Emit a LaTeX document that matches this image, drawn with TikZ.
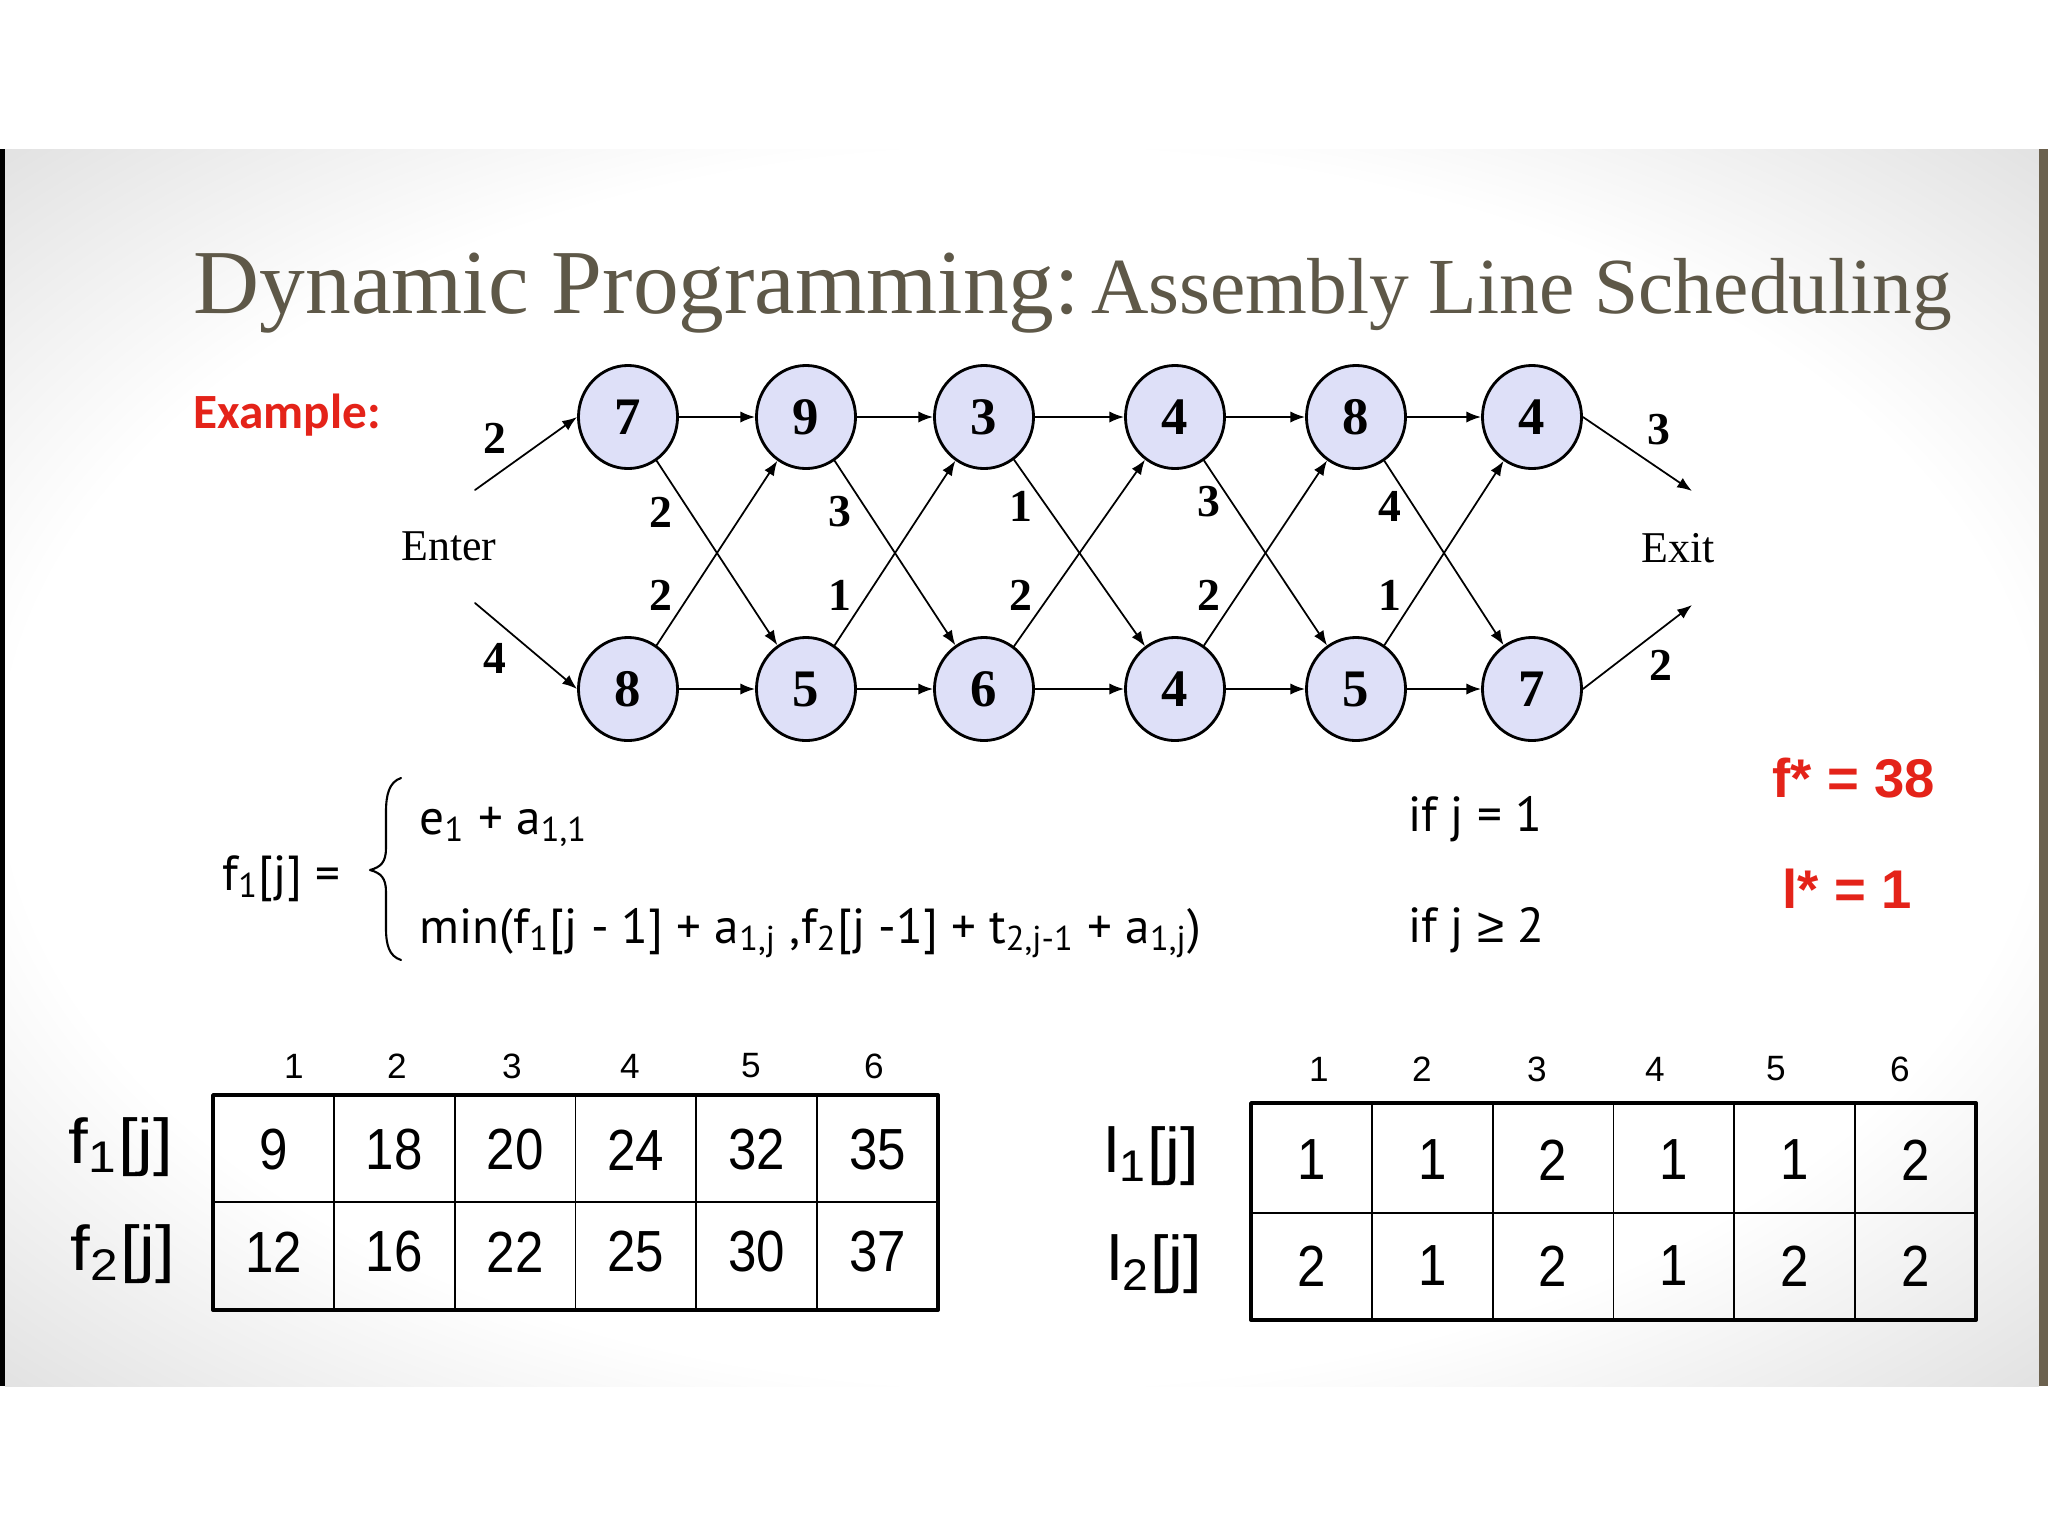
\documentclass[tikz,border=0pt]{standalone}
\usepackage{fontspec}
\setmainfont{Liberation Serif}
\newfontfamily\arialf{Liberation Sans}
\newfontfamily\calibf{Carlito}
\newfontfamily\formf{PT Sans}
\usetikzlibrary{arrows.meta,shapes.geometric,positioning}

\definecolor{titlegray}{RGB}{94,88,72}
\definecolor{exred}{RGB}{228,35,25}
\definecolor{stationfill}{RGB}{222,224,248}
\definecolor{barbrown}{RGB}{107,97,78}

\pgfdeclareradialshading{vignette}{\pgfpoint{0bp}{0bp}}{color(0bp)=(white); color(25bp)=(white); color(36bp)=(black!12); color(50bp)=(black!12)}

\tikzset{
  station/.style={ellipse,draw,line width=0.8pt,fill=stationfill,minimum width=0.99cm,
    minimum height=1.03cm,inner sep=0pt,font=\fontsize{15}{15}\selectfont\bfseries},
  arr/.style={-{Latex[length=4.2pt,width=3.2pt]},line width=0.5pt},
  wlabel/.style={inner sep=0pt,font=\fontsize{13}{14}\selectfont\bfseries},
  endlabel/.style={inner sep=0pt,font=\fontsize{12.5}{14}\selectfont},
  form/.style={anchor=base west,inner sep=0pt,font=\formf\fontsize{14}{16}\selectfont},
  result/.style={anchor=base west,inner sep=0pt,text=exred,font=\arialf\bfseries\fontsize{15.5}{18}\selectfont},
  colnum/.style={inner sep=0pt,font=\arialf\fontsize{10}{12}\selectfont},
  cell/.style={inner sep=0pt,font=\arialf\fontsize{16.5}{18}\selectfont},
  rowname/.style={inner sep=0pt,font=\arialf\fontsize{18}{20}\selectfont},
  outer/.style={line width=1.1pt},
  inner/.style={line width=0.5pt}
}

\begin{document}
\begin{tikzpicture}[x=0.01cm,y=-0.01cm,line cap=round,line join=round]
  \useasboundingbox (0,0) rectangle (2048,1536);
  % slide background
  \fill[white] (0,0) rectangle (2048,1536);
  \shade[shading=vignette] (5,149) rectangle (2039,1386);
  \fill[black] (0,149) rectangle (5,1386);
  \fill[barbrown] (2039,149) rectangle (2048,1386);

  \node[anchor=base west,inner sep=0pt,text=titlegray] (title) at (193,313)
    {\fontsize{26}{30}\selectfont Dynamic Programming:\hspace{3.2pt}\fontsize{22.6}{26}\selectfont Assembly Line Scheduling};
  \node[anchor=base west,inner sep=0pt,text=exred,font=\calibf\bfseries\fontsize{14}{16}\selectfont]
    (example) at (193,428) {Example:};

  % the two lines
  \foreach \x/\v [count=\i] in {628/7,806/9,984/3,1175/4,1356/8,1532/4}
    \node[station] (a\i) at (\x,417) {\v};
  \foreach \x/\v [count=\i] in {628/8,806/5,984/6,1175/4,1356/5,1532/7}
    \node[station] (b\i) at (\x,689) {\v};

  \node[endlabel] (enter) at (449,546) {Enter};
  \node[endlabel] (exit) at (1678,548) {Exit};
  \coordinate (inA) at (475,490);
  \coordinate (inB) at (475,603);
  \coordinate (outA) at (1692,491);
  \coordinate (outB) at (1692,605);

  \draw[arr] (inA) -- (a1.west);
  \draw[arr] (inB) -- (b1.west);
  \draw[arr] (a6.east) -- (outA);
  \draw[arr] (b6.east) -- (outB);
  \foreach \i in {1,...,5}{
    \pgfmathtruncatemacro\j{\i+1}
    \draw[arr] (a\i) -- (a\j);
    \draw[arr] (b\i) -- (b\j);
    \draw[arr] (a\i) -- (b\j);
    \draw[arr] (b\i) -- (a\j);
  }

  % weights
  \node[wlabel] (e1) at (495,438) {2};
  \node[wlabel] (e2) at (495,658) {4};
  \node[wlabel] (x1) at (1659,430) {3};
  \node[wlabel] (x2) at (1661,665) {2};
  \foreach \x/\ya/\ta/\tb [count=\i] in {661/512/2/2,840/512/3/1,1021/506/1/2,1209/502/3/2,1390/506/4/1}{
    \node[wlabel] (ta\i) at (\x,\ya) {\ta};
    \node[wlabel] (tb\i) at (\x,595) {\tb};
  }

  % recurrence
  \node[form] (lhs) at (222,890) {f\textsubscript{1}[j] =};
  \draw[line width=0.6pt] (401,778) .. controls (389,782) and (386,795) .. (386,812) -- (386,848)
    .. controls (386,862) and (381,867) .. (370,870) .. controls (381,873) and (386,878) .. (386,892)
    -- (386,928) .. controls (386,945) and (389,956) .. (401,960);
  \node[form] (case1) at (419,834) {e\textsubscript{1} + a\textsubscript{1,1}};
  \node[form] (case2) at (419,943) {min(f\textsubscript{1}[j - 1] + a\textsubscript{1,j} ,f\textsubscript{2}[j -1] + t\textsubscript{2,j-1} + a\textsubscript{1,j})};
  \node[form] (cond1) at (1408,831) {if j = 1};
  \node[form] (cond2) at (1408,942) {if j {\arialf ≥} 2};

  \node[result] (fstar) at (1772,797) {f* = 38};
  \node[result] (lstar) at (1782,908) {l* = 1};

  % table f
  \draw[outer] (213,1095) rectangle (938,1310);
  \draw[inner] (213,1202) -- (938,1202);
  \foreach \k in {1,...,5}
    \draw[inner] ({213+\k*120.83},1095) -- ({213+\k*120.83},1310);
  \foreach \x [count=\k] in {294,397,512,630,751,874}
    \node[colnum] (fh\k) at (\x,1066) {\k};
  \foreach \v [count=\k] in {9,18,20,24,32,35}
    \node[cell] (fa\k) at ({213+(\k-0.5)*120.83},1150) {\scalebox{0.88}[1]{\v}};
  \foreach \v [count=\k] in {12,16,22,25,30,37}
    \node[cell] (fb\k) at ({213+(\k-0.5)*120.83},1252) {\scalebox{0.88}[1]{\v}};
  \node[rowname] (fone) at (121,1147) {\scalebox{1.12}[1]{f\textsubscript{1}[j]}};
  \node[rowname] (ftwo) at (123,1254) {\scalebox{1.12}[1]{f\textsubscript{2}[j]}};

  % table l
  \draw[outer] (1251,1103) rectangle (1976,1320);
  \draw[inner] (1251,1213) -- (1976,1213);
  \foreach \k in {1,...,5}
    \draw[inner] ({1251+\k*120.83},1103) -- ({1251+\k*120.83},1320);
  \foreach \x [count=\k] in {1319,1422,1537,1655,1776,1900}
    \node[colnum] (lh\k) at (\x,1069) {\k};
  \foreach \v [count=\k] in {1,1,2,1,1,2}
    \node[cell] (la\k) at ({1251+(\k-0.5)*120.83},1160) {\scalebox{0.88}[1]{\v}};
  \foreach \v [count=\k] in {2,1,2,1,2,2}
    \node[cell] (lb\k) at ({1251+(\k-0.5)*120.83},1266) {\scalebox{0.88}[1]{\v}};
  \node[rowname] (lone) at (1152,1156) {\scalebox{1.05}[1]{l\textsubscript{1}[j]}};
  \node[rowname] (ltwo) at (1155,1264) {\scalebox{1.05}[1]{l\textsubscript{2}[j]}};
\end{tikzpicture}
\end{document}
